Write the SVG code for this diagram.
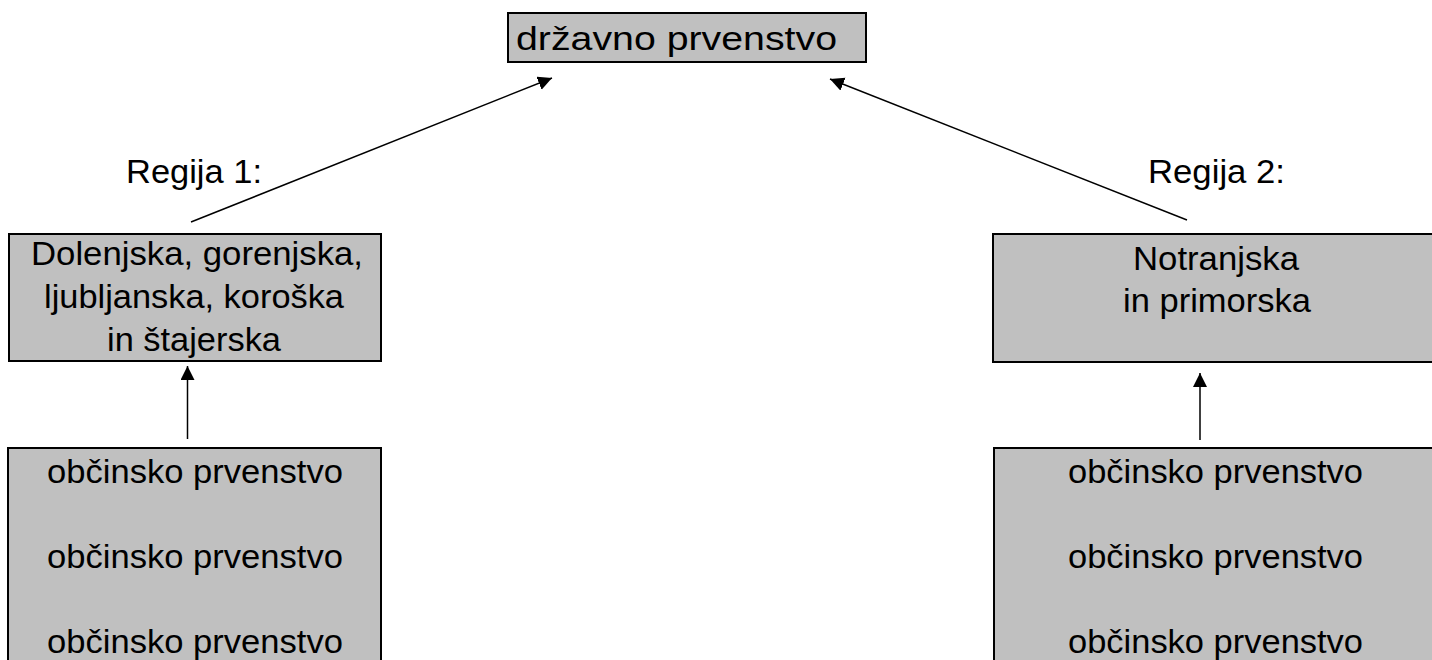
<svg xmlns="http://www.w3.org/2000/svg" width="1432" height="660" viewBox="0 0 1432 660">
<style>
  .box { fill: #c0c0c0; stroke: #000; stroke-width: 2; }
  .t { font-family: "Liberation Sans", Arial, sans-serif; font-size: 33px; fill: #000; }
  .conn { stroke: #000; stroke-width: 1.5; fill: none; marker-end: url(#arrow); }
</style>
<defs>
  <marker id="arrow" markerUnits="userSpaceOnUse" markerWidth="16" markerHeight="16" refX="14" refY="7" orient="auto">
    <path d="M0,0 L14,7 L0,14 Z" fill="#000"/>
  </marker>
</defs>
<rect width="1432" height="660" fill="#fff"/>
<g id="connectors">
  <line class="conn" x1="191" y1="222" x2="552" y2="78"/>
  <line class="conn" x1="1187" y1="220" x2="830" y2="79"/>
  <line class="conn" x1="187.5" y1="439" x2="187.5" y2="366"/>
  <line class="conn" x1="1200" y1="440" x2="1200" y2="373"/>
</g>
<g id="drzavno">
  <rect class="box" x="508" y="13" width="358" height="49"/>
  <text class="t" x="516" y="50" textLength="321" lengthAdjust="spacingAndGlyphs">državno prvenstvo</text>
</g>
<g id="label-regija1">
  <text class="t" x="126" y="183" textLength="136" lengthAdjust="spacingAndGlyphs">Regija 1:</text>
</g>
<g id="label-regija2">
  <text class="t" x="1148" y="183" textLength="137" lengthAdjust="spacingAndGlyphs">Regija 2:</text>
</g>
<g id="regija1">
  <rect class="box" x="9" y="234" width="372" height="127"/>
  <text class="t" x="31" y="265" textLength="332" lengthAdjust="spacingAndGlyphs">Dolenjska, gorenjska,</text>
  <text class="t" x="44" y="308" textLength="300" lengthAdjust="spacingAndGlyphs">ljubljanska, koroška</text>
  <text class="t" x="107" y="351" textLength="174" lengthAdjust="spacingAndGlyphs">in štajerska</text>
</g>
<g id="regija2">
  <rect class="box" x="993" y="234" width="450" height="128"/>
  <text class="t" x="1133" y="270" textLength="166" lengthAdjust="spacingAndGlyphs">Notranjska</text>
  <text class="t" x="1123" y="312" textLength="188" lengthAdjust="spacingAndGlyphs">in primorska</text>
</g>
<g id="obcine1">
  <rect class="box" x="8" y="448" width="373" height="230"/>
  <text class="t" x="47" y="483" textLength="296" lengthAdjust="spacingAndGlyphs">občinsko prvenstvo</text>
  <text class="t" x="47" y="568" textLength="296" lengthAdjust="spacingAndGlyphs">občinsko prvenstvo</text>
  <text class="t" x="47" y="653" textLength="296" lengthAdjust="spacingAndGlyphs">občinsko prvenstvo</text>
</g>
<g id="obcine2">
  <rect class="box" x="994" y="448" width="450" height="230"/>
  <text class="t" x="1068" y="483" textLength="295" lengthAdjust="spacingAndGlyphs">občinsko prvenstvo</text>
  <text class="t" x="1068" y="568" textLength="295" lengthAdjust="spacingAndGlyphs">občinsko prvenstvo</text>
  <text class="t" x="1068" y="653" textLength="295" lengthAdjust="spacingAndGlyphs">občinsko prvenstvo</text>
</g>
</svg>
